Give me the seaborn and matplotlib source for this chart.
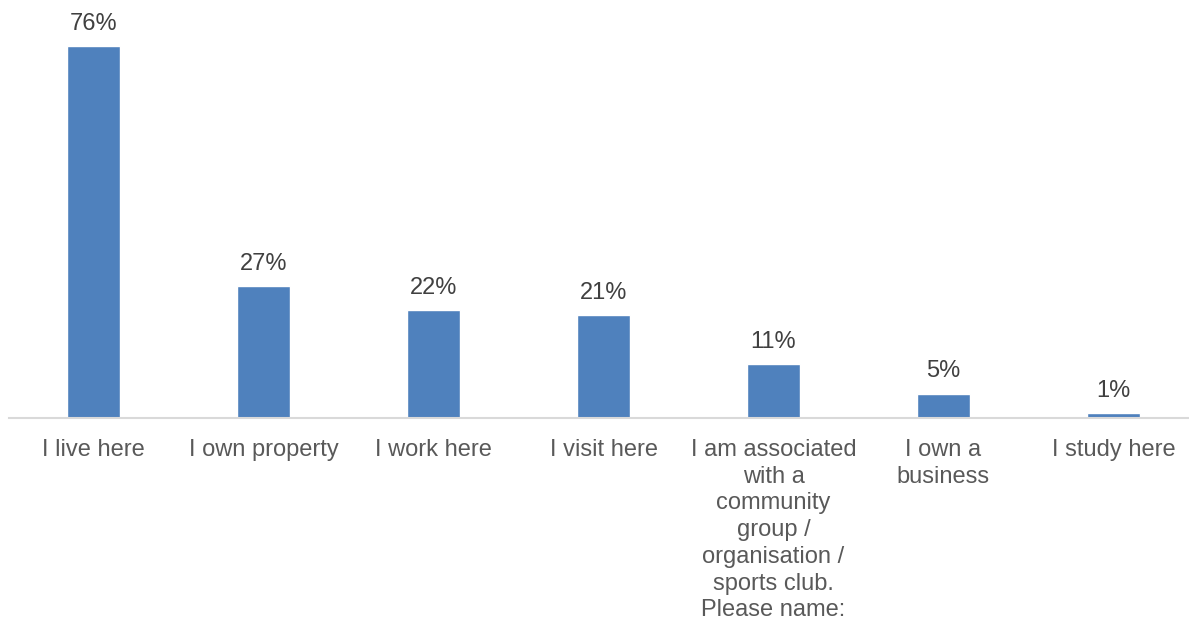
import pandas as pd
import seaborn as sns
import matplotlib.pyplot as plt

categories = ['I live here', 'I own property', 'I work here', 'I visit here',
              'I am associated\nwith a\ncommunity\ngroup /\norganisation /\nsports club.\nPlease name:',
              'I own a\nbusiness', 'I study here']
values = [76, 27, 22, 21, 11, 5, 1]

df = pd.DataFrame({'category': categories, 'pct': values})

sns.set_style('white')
plt.rcParams['font.family'] = ['Liberation Sans', 'DejaVu Sans']

fig = plt.figure(figsize=(11.89, 6.24), dpi=100)
ax = fig.add_axes([8.5 / 1189, 1 - 418 / 624, 1190 / 1189, 418 / 624])

sns.barplot(data=df, x='category', y='pct', color='#4F81BD', saturation=1,
            width=0.31, ax=ax)

ax.set_xlim(-0.5, 6.5)
ax.set_ylim(0, 85.4)
for c in ax.containers:
    ax.bar_label(c, labels=[f'{v}%' for v in values], padding=8,
                 fontsize=17, color='#404040')

ax.set_xlabel('')
ax.set_ylabel('')
ax.set_yticks([])
ax.tick_params(axis='x', length=0, pad=15, labelsize=17, labelcolor='#595959')
for lbl in ax.get_xticklabels():
    lbl.set_linespacing(1.28)
for s in ['top', 'right', 'left']:
    ax.spines[s].set_visible(False)
ax.spines['bottom'].set_color('#D9D9D9')
ax.spines['bottom'].set_linewidth(1.5)

fig.savefig('out.png', dpi=100)
